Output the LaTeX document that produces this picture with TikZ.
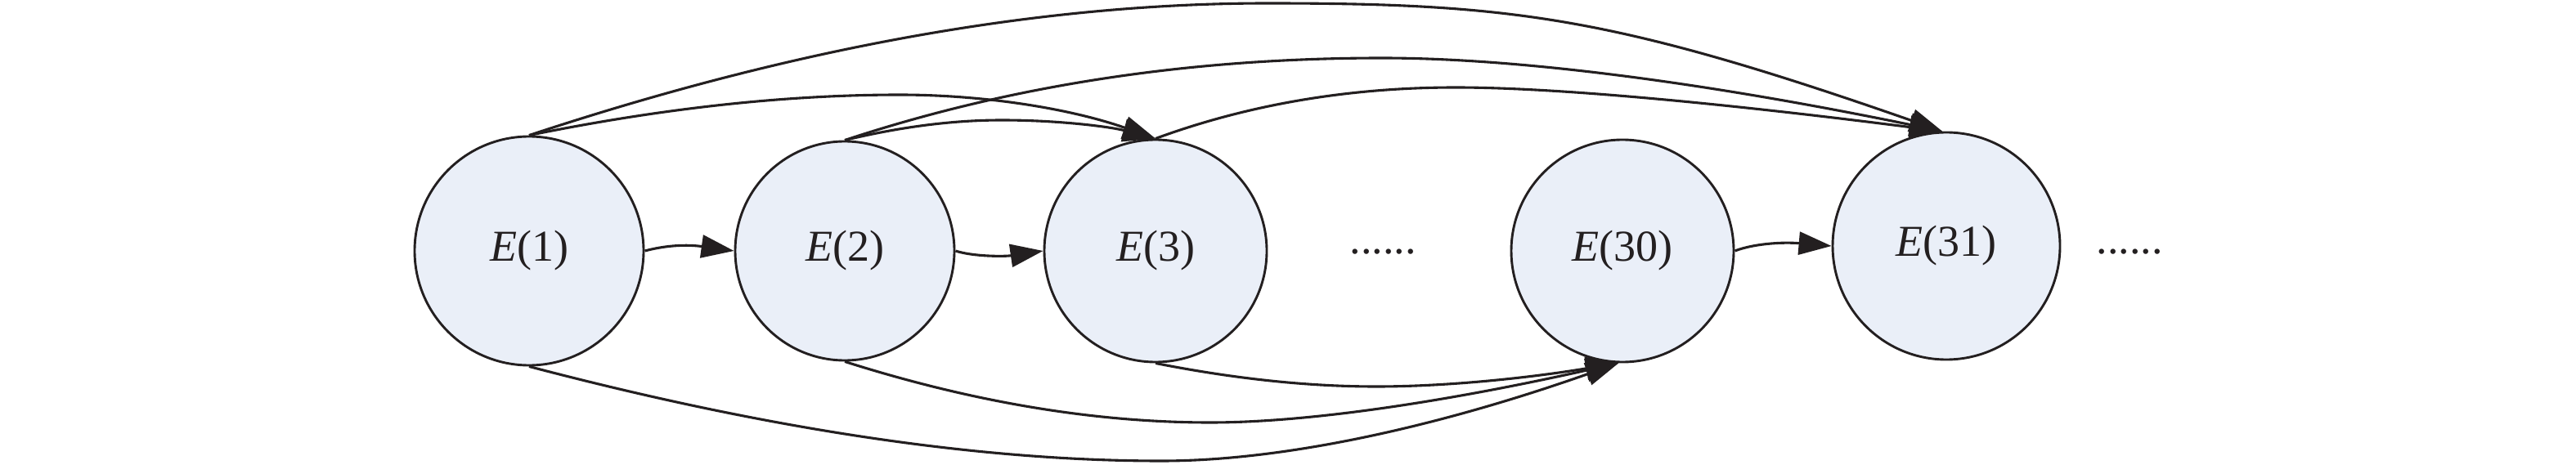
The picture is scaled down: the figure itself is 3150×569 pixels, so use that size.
\documentclass[tikz,border=0pt]{standalone}
\usepackage{fontspec}
\setmainfont{Liberation Serif}
\usetikzlibrary{arrows.meta}
\definecolor{nodefill}{RGB}{234,239,248}
\definecolor{ink}{RGB}{35,31,32}
\begin{document}
\begin{tikzpicture}[x=1pt,y=-1pt,
  enode/.style={circle, draw=ink, fill=nodefill, line width=2.9pt, inner sep=0pt,
    font=\fontsize{54}{60}\selectfont, text=ink},
  link/.style={draw=ink, line width=3.1pt, -{Triangle[length=40pt,width=28pt]}},
  dotsnode/.style={font=\fontsize{54}{60}\selectfont, text=ink, inner sep=0pt}]
\useasboundingbox (0,0) rectangle (3150,569);
\node[enode, minimum size=280pt] (e1) at (647,307) {\textit{E}(1)};
\node[enode, minimum size=268pt] (e2) at (1033,307) {\textit{E}(2)};
\node[enode, minimum size=272pt] (e3) at (1413,307) {\textit{E}(3)};
\node[enode, minimum size=272pt] (e30) at (1984,307) {\textit{E}(30)};
\node[enode, minimum size=278pt] (e31) at (2380,301) {\textit{E}(31)};
\node[dotsnode] (d1) at (1691,308) {......};
\node[dotsnode] (d2) at (2604,308) {......};
% short arrows
\draw[link] (e1.east) .. controls (815,300) and (840,299) .. (e2.west);
\draw[link] (e2.east) .. controls (1190,314) and (1228,314) .. (e3.west);
\draw[link] (e30.east) .. controls (2145,298) and (2180,296) .. (e31.west);
% top arcs into E(3)
\draw[link] (e1.north) .. controls (807,133) and (958,116) .. (1100,116)
  .. controls (1208,116) and (1312,134) .. (e3.north);
\draw[link] (e2.north) .. controls (1098,156) and (1162,147) .. (1225,147)
  .. controls (1294,147) and (1357,155) .. (e3.north);
% top arcs into E(31)
\draw[link] (e1.north) .. controls (972,58) and (1273,4) .. (1550,4)
  .. controls (1850,4) and (1975,21) .. (e31.92);
\draw[link] (e2.north) .. controls (1234,105) and (1453,71) .. (1690,71)
  .. controls (1857,71) and (2085,101) .. (e31.92);
\draw[link] (e3.north) .. controls (1526,128) and (1649,107) .. (1780,107)
  .. controls (1898,107) and (2096,125) .. (e31.92);
% bottom arcs into E(30)
\draw[link] (e1.south) .. controls (938,525) and (1196,564) .. (1420,564)
  .. controls (1569,564) and (1756,523) .. (e30.268);
\draw[link] (e2.south) .. controls (1189,492) and (1338,517) .. (1480,517)
  .. controls (1599,517) and (1766,492) .. (e30.268);
\draw[link] (e3.south) .. controls (1507,463) and (1597,473) .. (1683,473)
  .. controls (1767,473) and (1866,463) .. (e30.268);
\end{tikzpicture}
\end{document}
